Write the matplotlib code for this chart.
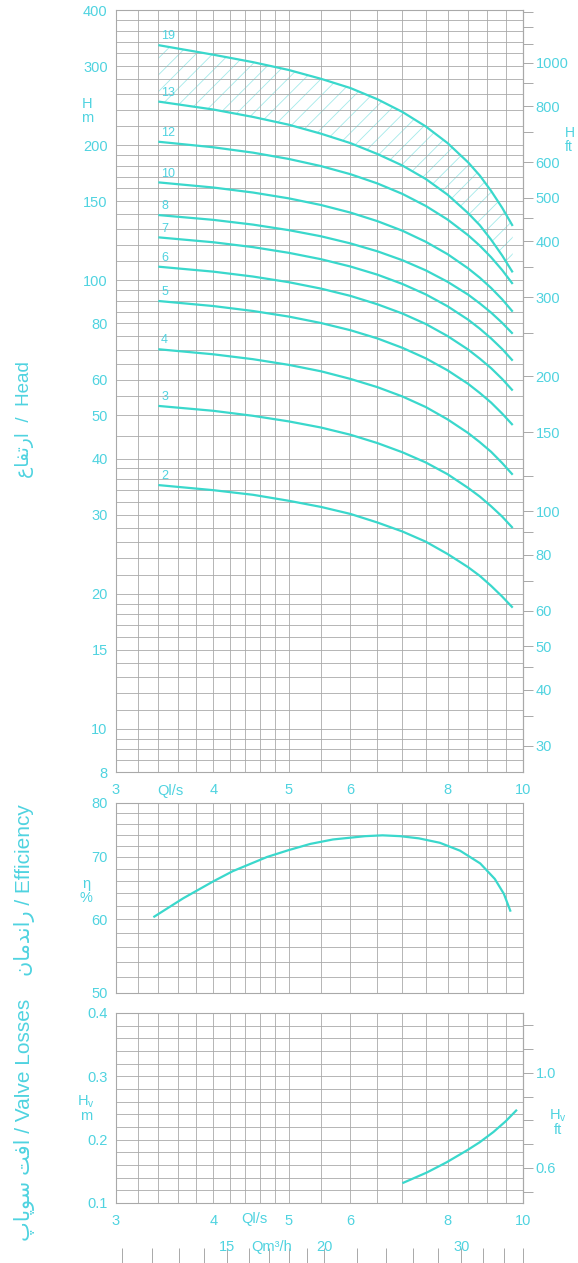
import matplotlib
matplotlib.use('Agg')
import matplotlib.pyplot as plt
from matplotlib.ticker import FixedLocator, NullFormatter

plt.rcParams['font.family'] = ['Liberation Sans', 'DejaVu Sans']
plt.rcParams['hatch.linewidth'] = 0.6

# ---------------- data ----------------
q_head = [3.4, 4.0, 4.5, 5.0, 5.5, 6.0, 6.5, 7.0, 7.5, 8.0, 8.5, 8.8, 9.1, 9.4, 9.7]
H19 = [334, 318, 306, 294, 281, 268, 253, 237, 220, 202, 183, 171, 158, 145, 132]
H13 = [250, 240, 231, 222, 212, 202, 191, 180, 168, 155, 141, 132.5, 123, 113.5, 104]
H12 = [203.4, 197.7, 192.3, 186.2, 179.5, 172.2, 164.2, 155.6, 146.3, 136.4, 125.9, 119.3, 112.4, 105.3, 98.0]
H10 = [165.1, 160.8, 156.7, 152.1, 147.0, 141.4, 135.3, 128.8, 121.7, 114.2, 106.2, 101.2, 96.0, 90.6, 85.0]
H8 = [139.6, 136.2, 132.9, 129.2, 125.2, 120.7, 115.9, 110.7, 105.1, 99.1, 92.8, 88.7, 84.6, 80.3, 75.9]
H7 = [124.5, 121.4, 118.4, 115.0, 111.3, 107.2, 102.8, 98.0, 92.9, 87.4, 81.6, 77.9, 74.1, 70.2, 66.1]
H6 = [107.1, 104.4, 101.8, 98.9, 95.7, 92.2, 88.3, 84.2, 79.8, 75.0, 70.0, 66.8, 63.6, 60.2, 56.7]
H5 = [89.8, 87.5, 85.3, 82.9, 80.2, 77.3, 74.1, 70.6, 66.9, 62.9, 58.7, 56.0, 53.3, 50.4, 47.5]
H4 = [70.1, 68.3, 66.6, 64.7, 62.6, 60.2, 57.7, 55.0, 52.1, 48.9, 45.6, 43.5, 41.4, 39.1, 36.8]
H3 = [52.4, 51.1, 49.8, 48.4, 46.9, 45.2, 43.3, 41.3, 39.2, 36.9, 34.4, 32.9, 31.3, 29.7, 28.0]
H2 = [34.9, 34.0, 33.2, 32.2, 31.2, 30.1, 28.8, 27.5, 26.1, 24.5, 22.9, 21.9, 20.8, 19.7, 18.6]
stage_labels = ['19', '13', '12', '10', '8', '7', '6', '5', '4', '3', '2']
head_curves = [H19, H13, H12, H10, H8, H7, H6, H5, H4, H3, H2]

q_eff = [3.36, 3.66, 4.0, 4.24, 4.69, 5.0, 5.33, 5.7, 6.27, 6.6, 6.95, 7.35, 7.82, 8.3, 8.81, 9.2, 9.45, 9.63]
eff = [60.4, 63.2, 65.9, 67.6, 70.0, 71.2, 72.3, 73.1, 73.7, 73.85, 73.7, 73.3, 72.5, 71.1, 68.9, 66.3, 63.9, 61.3]

q_valve = [7.02, 7.52, 7.97, 8.47, 8.8, 9.16, 9.5, 9.8]
hv = [0.132, 0.148, 0.164, 0.183, 0.196, 0.212, 0.229, 0.246]

q_ticks = [3, 4, 5, 6, 8, 10]
head_ticks_m = [8, 10, 15, 20, 30, 40, 50, 60, 80, 100, 150, 200, 300, 400]
head_ticks_ft = [30, 40, 50, 60, 80, 100, 150, 200, 300, 400, 500, 600, 800, 1000]
eff_ticks = [50, 60, 70, 80]
hv_ticks_m = [0.1, 0.2, 0.3, 0.4]
hv_ticks_ft = [0.6, 1.0]
m3h_ticks = [15, 20, 30]

# ---------------- style ----------------
TXT = '#4fd3e0'
CURVE = '#3ad8cc'
GRID = '#a9a9a9'
HATCH = '#a3eaea'
M2FT = 3.2808
grid_q = [3.2, 3.4, 3.6, 3.8, 4.0, 4.2, 4.4, 4.6, 4.8, 5.0, 5.5, 6.0, 6.5, 7.0,
          7.5, 8.0, 8.5, 9.0, 9.5]
grid_head = [8.5, 9, 9.5, 11, 12, 13, 14, 16, 17, 18, 19, 22, 24, 26, 28, 32, 34,
             36, 38, 45, 55, 65, 70, 75, 85, 90, 95, 110, 120, 130, 140, 160, 170,
             180, 190, 220, 240, 260, 280, 320, 340, 360, 380]
grid_eff = list(range(52, 80, 2))
grid_hv = [0.12, 0.14, 0.16, 0.18, 0.22, 0.24, 0.26, 0.28, 0.32, 0.34, 0.36, 0.38]
minor_ft = [35, 45, 70, 90, 120, 250, 350, 450, 700, 900, 1100, 1200, 1300]
minor_hv_ft = [0.5, 0.7, 0.8, 0.9, 1.1, 1.2]
m3h_minor = [11, 12, 13, 14, 16, 17, 18, 19, 22, 24, 26, 28, 32, 34, 36]

W, HH = 578, 1263
fig = plt.figure(figsize=(W / 100, HH / 100), dpi=100)


def rect(l, t, r, b):
    return [l / W, 1 - b / HH, (r - l) / W, (b - t) / HH]


def px(x, y):
    return x / W, 1 - y / HH


def base(a, ylog, ylim, yt, ygrid, showx):
    a.set_xscale('log')
    a.set_xlim(3, 10)
    if ylog:
        a.set_yscale('log')
    a.set_ylim(*ylim)
    a.set_xticks(q_ticks, labels=[str(v) for v in q_ticks] if showx else [''] * len(q_ticks))
    a.xaxis.set_minor_locator(FixedLocator(grid_q))
    a.xaxis.set_minor_formatter(NullFormatter())
    a.set_yticks(yt, labels=[str(v) for v in yt])
    a.yaxis.set_minor_locator(FixedLocator(ygrid))
    a.yaxis.set_minor_formatter(NullFormatter())
    a.grid(True, which='both', color=GRID, lw=0.6)
    a.tick_params(which='both', length=0, labelcolor=TXT, labelsize=10.5)
    a.tick_params(axis='x', pad=8)
    a.tick_params(axis='y', pad=6)
    for s in a.spines.values():
        s.set_color(GRID)
        s.set_linewidth(0.8)


ax = fig.add_axes(rect(116, 10, 523, 772))
ax2 = fig.add_axes(rect(116, 803, 523, 993))
ax3 = fig.add_axes(rect(116, 1013, 523, 1203))
ax4 = fig.add_axes(rect(116, 1251, 523, 1263))

base(ax, True, (8, 400), head_ticks_m, grid_head, True)
base(ax2, True, (50, 80), eff_ticks, grid_eff, False)
base(ax3, False, (0.1, 0.4), hv_ticks_m, grid_hv, True)

# head curves
ax.fill_between(q_head, H13, H19, facecolor='none', edgecolor=HATCH, hatch='//',
                linewidth=0, zorder=1.5)
for H, lab in zip(head_curves, stage_labels):
    ax.plot(q_head, H, color=CURVE, lw=1.6, zorder=3, solid_capstyle='butt',
            solid_joinstyle='round')
    ax.annotate(lab, (q_head[0], H[0]), xytext=(2, 2), textcoords='offset points',
                fontsize=9, color=TXT, ha='left', va='bottom')

# right ft axis
axr = ax.twinx()
axr.set_yscale('log')
axr.set_ylim(8 * M2FT, 400 * M2FT)
axr.set_yticks(head_ticks_ft, labels=[str(v) for v in head_ticks_ft])
axr.yaxis.set_minor_locator(FixedLocator(minor_ft))
axr.yaxis.set_minor_formatter(NullFormatter())
axr.tick_params(axis='y', which='both', length=7, width=0.7, color=GRID,
                labelcolor=TXT, labelsize=10.5, pad=2)
for k in ['left', 'top', 'bottom']:
    axr.spines[k].set_visible(False)
axr.spines['right'].set_color(GRID)

# efficiency
ax2.plot(q_eff, eff, color=CURVE, lw=1.6, solid_joinstyle='round')

# valve losses
ax3.plot(q_valve, hv, color=CURVE, lw=1.6, solid_joinstyle='round')
ax3.set_yticks(hv_ticks_m, labels=['%.1f' % v for v in hv_ticks_m])
axr3 = ax3.twinx()
axr3.set_ylim(0.4526, 1.2526)
axr3.set_yticks(hv_ticks_ft, labels=['%.1f' % v for v in hv_ticks_ft])
axr3.yaxis.set_minor_locator(FixedLocator(minor_hv_ft))
axr3.tick_params(axis='y', which='both', length=7, width=0.7, color=GRID,
                 labelcolor=TXT, labelsize=10.5, pad=2)
for k in ['left', 'top', 'bottom']:
    axr3.spines[k].set_visible(False)
axr3.spines['right'].set_color(GRID)

# bottom m3/h scale
ax4.set_xscale('log')
ax4.set_xlim(3 * 3.6, 10 * 3.6)
ax4.set_xticks(m3h_ticks, labels=[str(v) for v in m3h_ticks])
ax4.xaxis.set_minor_locator(FixedLocator(m3h_minor))
ax4.xaxis.set_minor_formatter(NullFormatter())
ax4.tick_params(axis='x', which='both', direction='in', length=11, width=0.7,
                color=GRID, bottom=True, top=False, labelbottom=False,
                labeltop=True, labelcolor=TXT, labelsize=10.5, pad=-2)
ax4.set_yticks([])
for s in ax4.spines.values():
    s.set_visible(False)
ax4.patch.set_visible(False)

# axis texts
fig.text(*px(170, 791), 'Ql/s', color=TXT, fontsize=10.5, ha='center', va='center')
fig.text(*px(254, 1219), 'Ql/s', color=TXT, fontsize=10.5, ha='center', va='center')
fig.text(*px(272, 1247), 'Qm³/h', color=TXT, fontsize=10.5, ha='center', va='center')
fig.text(*px(87, 111), 'H\nm', color=TXT, fontsize=10.5, ha='center', va='center',
         linespacing=0.95)
fig.text(*px(565, 140), 'H\nft', color=TXT, fontsize=10, ha='left', va='center',
         linespacing=0.95)
fig.text(*px(86, 891), 'η\n%', color=TXT, fontsize=10.5, ha='center', va='center',
         linespacing=0.95)
fig.text(*px(86, 1108), 'H$_\\mathregular{v}$\nm', color=TXT, fontsize=10.5,
         ha='center', va='center', linespacing=0.95)
fig.text(*px(558, 1122), 'H$_\\mathregular{v}$\nft', color=TXT, fontsize=10.5,
         ha='center', va='center', linespacing=0.95)

# rotated side titles (Persian pre-shaped in visual order)
fa_head = '\ufec9\ufe8e\ufed4\ufe97\ufead\ufe8d'
fa_eff = '\ufee5\ufe8e\ufee3\ufeaa\ufee7\ufe8d\ufead'
fa_valve = '\ufb56\ufe8e\ufb58\ufeee\ufeb3 \ufe96\ufed3\ufe8d'
fig.text(*px(25, 420), fa_head + '  /  Head', color=TXT, fontsize=13.5,
         rotation=90, ha='center', va='center')
fig.text(*px(25, 890), fa_eff + ' / Efficiency', color=TXT, fontsize=15,
         rotation=90, ha='center', va='center')
fig.text(*px(25, 1120), fa_valve + ' / Valve Losses', color=TXT, fontsize=15,
         rotation=90, ha='center', va='center')

fig.savefig('out.png', dpi=100, facecolor='white')
